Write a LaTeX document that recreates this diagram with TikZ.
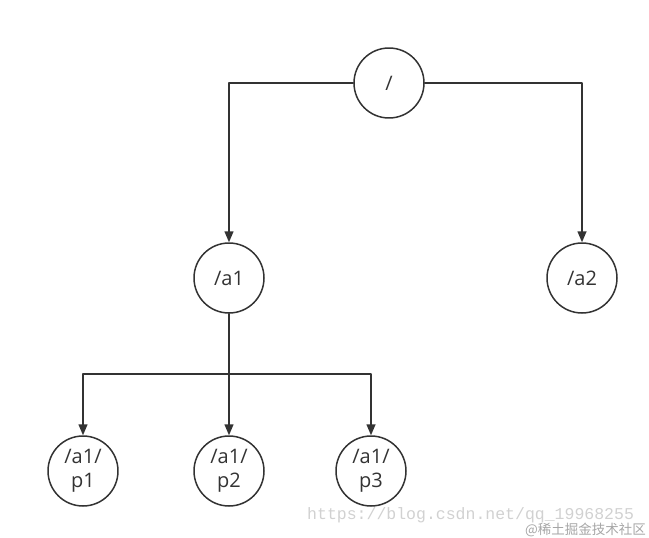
\documentclass[tikz,border=0pt]{standalone}
\usepackage{fontspec}
\setmainfont{Open Sans}
\newfontfamily\wmmono{Liberation Mono}
\newfontfamily\cjk{Noto Sans CJK SC}
\usetikzlibrary{arrows.meta}
\definecolor{inkgray}{HTML}{333333}

\begin{document}
\begin{tikzpicture}[x=1pt, y=-1pt, line cap=round, line join=round,
    knot/.style={circle, draw=inkgray, line width=1.5pt, minimum size=70pt,
      inner sep=0pt, align=center, text=inkgray,
      font=\fontsize{20}{24}\selectfont},
    link/.style={draw=inkgray, line width=1.5pt,
      -{Triangle[length=11pt, width=9pt]}}]
  \useasboundingbox (0,0) rectangle (649,538);

  % --- Nút ---
  \node[knot] (root) at (389,83) {/};
  \node[knot] (a1) at (229,278) {/a1};
  \node[knot] (a2) at (582,278) {/a2};
  \node[knot] (p1) at (83,471) {/a1/\\p1};
  \node[knot] (p2) at (229,471) {/a1/\\p2};
  \node[knot] (p3) at (371,471) {/a1/\\p3};
  % điểm rẽ nhánh dưới /a1
  \coordinate (fork) at (229,374);

  % --- Nhánh từ gốc ---
  \draw[link] (root.west) -| (a1.north);
  \draw[link] (root.east) -| (a2.north);

  % --- Nhánh từ /a1 ---
  \draw[link] (a1.south) -- (p2.north);
  \foreach \p in {p1,p3} \draw[link] (fork) -| (\p.north);

  % --- Hình mờ ---
  \node[anchor=base west, inner sep=0pt, text=black!18,
    font=\wmmono\fontsize{16.5}{18}\selectfont] (wmurl) at (307,519)
    {https://blog.csdn.net/qq\_19968255};
  \node[anchor=base east, inner sep=0pt, text=black!35,
    font=\cjk\fontsize{13.5}{15}\selectfont] (wmcn) at (646,534)
    {@稀土掘金技术社区};
\end{tikzpicture}
\end{document}
